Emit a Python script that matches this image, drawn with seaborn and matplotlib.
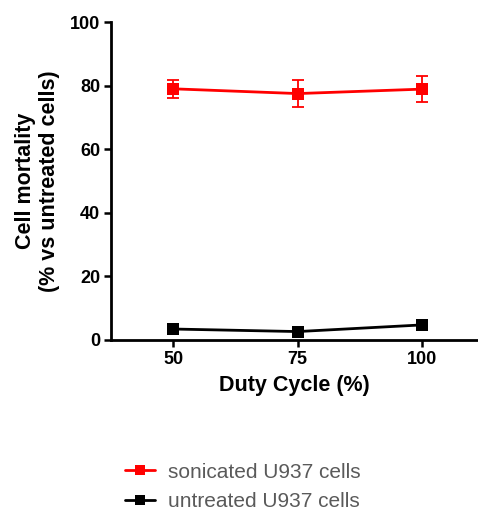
import numpy as np
import pandas as pd
import matplotlib
matplotlib.use("Agg")
import matplotlib.pyplot as plt
import seaborn as sns

# values
duty_cycle = [50, 75, 100]
sonicated = [79.1, 77.6, 79.0]
sonicated_err = [2.8, 4.2, 4.1]
untreated = [3.4, 2.6, 4.7]
series_names = ["sonicated U937 cells", "untreated U937 cells"]
series_colors = ["#ff0000", "#000000"]

df = pd.DataFrame({
    "duty": duty_cycle * 2,
    "mortality": sonicated + untreated,
    "group": [series_names[0]] * 3 + [series_names[1]] * 3,
})

sns.set_style("ticks")
plt.rcParams["font.family"] = ["Liberation Sans", "DejaVu Sans"]

fig = plt.figure(figsize=(4.78, 5.11), dpi=100)
ax = fig.add_axes([0.233, 0.335, 0.767, 0.621])

sns.lineplot(data=df, x="duty", y="mortality", hue="group", palette=series_colors,
             marker="s", markersize=9, markeredgewidth=0, linewidth=2, ax=ax)
ax.errorbar(duty_cycle, sonicated, yerr=sonicated_err, fmt="none", ecolor=series_colors[0],
            elinewidth=1.3, capsize=4.5, capthick=1.3)

ax.set_xlim(37.6, 111.2)
ax.set_ylim(0, 100)
ax.set_xticks(duty_cycle)
ax.set_yticks([0, 20, 40, 60, 80, 100])
ax.tick_params(axis="both", direction="out", length=5, width=1.8, labelsize=13, pad=3,
               colors="black")
for lab in ax.get_xticklabels() + ax.get_yticklabels():
    lab.set_fontweight("bold")
for s in ["left", "bottom"]:
    ax.spines[s].set_linewidth(2)
    ax.spines[s].set_color("black")
sns.despine(ax=ax)
ax.set_xlabel("Duty Cycle (%)", fontsize=15.5, fontweight="bold", labelpad=5, color="black")
ax.set_ylabel("Cell mortality\n(% vs untreated cells)", fontsize=15.5, fontweight="bold",
              labelpad=7, color="black")

leg = ax.legend(loc="upper left", bbox_to_anchor=(-0.015, -0.328), frameon=False,
                fontsize=15, handlelength=1.45, handletextpad=0.65, labelspacing=0.5,
                markerscale=0.85)
for t in leg.get_texts():
    t.set_color("#5a5a5a")

fig.savefig("out.png", dpi=100)
